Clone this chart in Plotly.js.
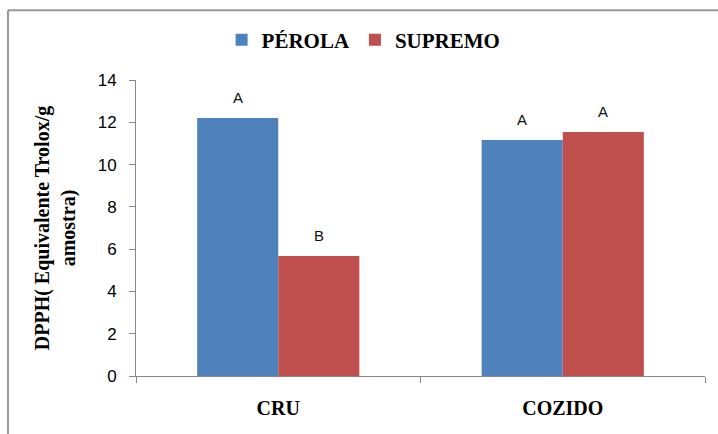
<!DOCTYPE html>
<html>
<head>
<meta charset="utf-8">
<script src="https://cdn.plot.ly/plotly-3.0.1.min.js"></script>
<style>
html,body{margin:0;padding:0;background:#fff;}
#chart{width:718px;height:434px;}
</style>
</head>
<body>
<div id="chart"></div>
<script>
const categories = ["CRU", "COZIDO"];
const seriesNames = ["PÉROLA", "SUPREMO"];
const perola = [12.2, 11.16];
const supremo = [5.68, 11.54];
const perolaLetters = ["A", "A"];
const supremoLetters = ["B", "A"];
const yTicks = [0, 2, 4, 6, 8, 10, 12, 14];

const blue = "#4F81BD";
const red = "#C0504D";

const traces = [
  {type: "bar", name: seriesNames[0], x: categories, y: perola, marker: {color: blue}},
  {type: "bar", name: seriesNames[1], x: categories, y: supremo, marker: {color: red}}
];

const annotations = [];
categories.forEach((c, i) => {
  annotations.push({x: c, y: perola[i], xref: "x", yref: "y", text: perolaLetters[i], showarrow: false,
    xshift: -40.5, yanchor: "bottom", yshift: 10, font: {family: "Liberation Sans, Arial, sans-serif", size: 15, color: "#111"}});
  annotations.push({x: c, y: supremo[i], xref: "x", yref: "y", text: supremoLetters[i], showarrow: false,
    xshift: 40.5, yanchor: "bottom", yshift: 10, font: {family: "Liberation Sans, Arial, sans-serif", size: 15, color: "#111"}});
});

const layout = {
  width: 718, height: 434,
  margin: {l: 136, r: 13, t: 80, b: 58, pad: 0},
  paper_bgcolor: "#fff", plot_bgcolor: "#fff",
  barmode: "group", bargap: 0.43, bargroupgap: 0,
  showlegend: true,
  legend: {orientation: "h", x: 0.40, xanchor: "center", y: 1.135, yanchor: "middle",
    font: {family: "Liberation Serif, Times New Roman, serif", size: 21, color: "#000", weight: "bold"},
    itemwidth: 30, traceorder: "normal"},
  xaxis: {type: "category", showline: true, linecolor: "#888", linewidth: 1,
    ticks: "outside", tickson: "boundaries", ticklen: 6, tickcolor: "#888",
    showgrid: false, zeroline: false, ticklabelstandoff: 14,
    tickfont: {family: "Liberation Serif, Times New Roman, serif", size: 20, color: "#000", weight: "bold"}},
  yaxis: {range: [0, 14], tickvals: yTicks, showline: true, linecolor: "#888", linewidth: 1,
    ticks: "outside", ticklen: 6, tickcolor: "#888", showgrid: false, zeroline: false,
    ticklabelstandoff: 9,
    tickfont: {family: "Liberation Sans, Arial, sans-serif", size: 17, color: "#000"},
    title: {text: "DPPH( Equivalente Trolox/g<br>amostra)", standoff: 16,
      font: {family: "Liberation Serif, Times New Roman, serif", size: 20, color: "#000", weight: "bold"}}},
  annotations: annotations,
  shapes: [
    {type: "line", xref: "paper", yref: "paper", x0: -0.225, x1: 1.03, y0: 1.236, y1: 1.236, line: {color: "#999", width: 2}},
    {type: "line", xref: "paper", yref: "paper", x0: -0.225, x1: -0.225, y0: 1.236, y1: -0.2, line: {color: "#999", width: 2}}
  ]
};

Plotly.newPlot("chart", traces, layout, {displayModeBar: false, staticPlot: true});
</script>
</body>
</html>
